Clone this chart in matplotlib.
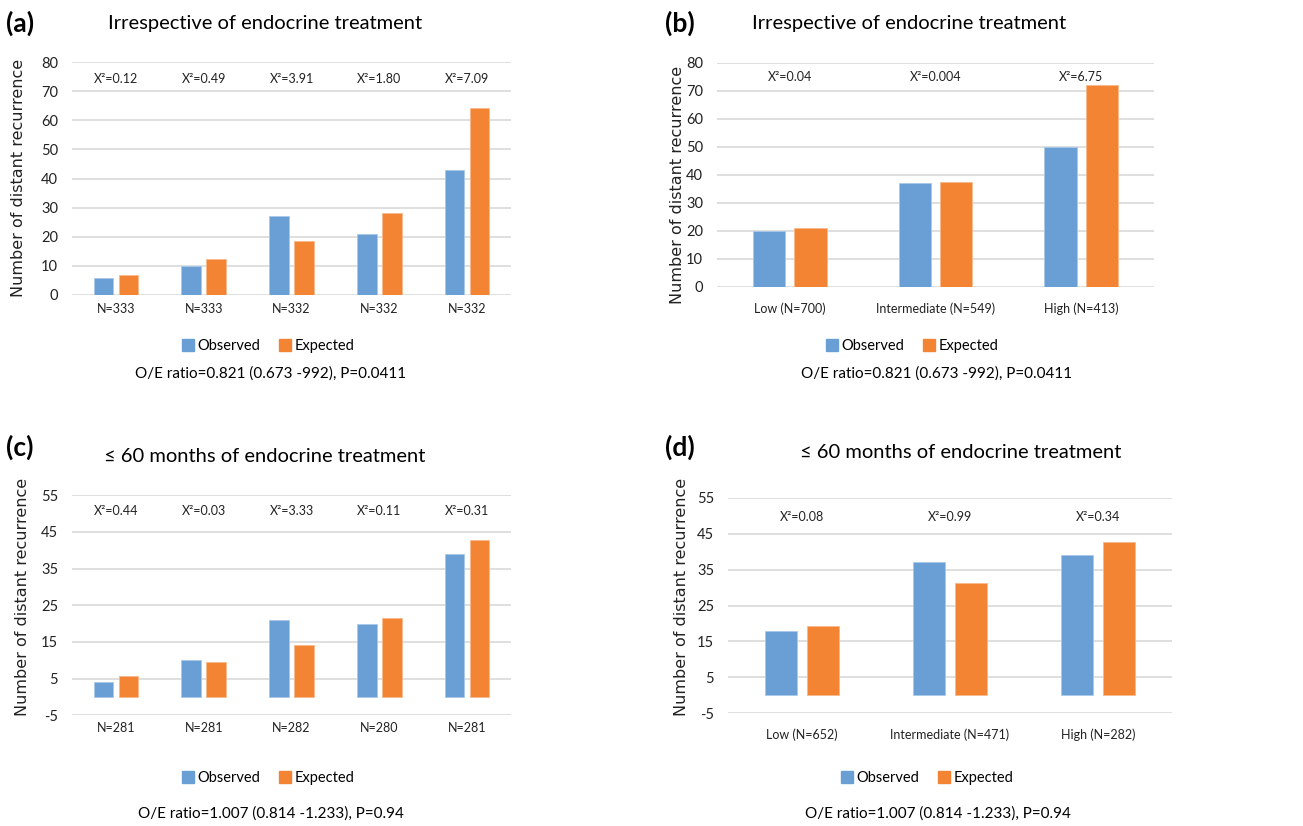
import numpy as np
import matplotlib
matplotlib.use("Agg")
import matplotlib.pyplot as plt
from matplotlib.patches import Patch

plt.rcParams['font.family'] = ['Lato', 'DejaVu Sans']

W, H = 1303, 826

# ---------------------------------------------------------------------------
# Data
# ---------------------------------------------------------------------------
obs_a = [6, 10, 27, 21, 43]
exp_a = [6.8, 12.4, 18.6, 28.2, 64.3]
chi_a = ["0.12", "0.49", "3.91", "1.80", "7.09"]
cats_a = ["N=333", "N=333", "N=332", "N=332", "N=332"]

obs_b = [20, 37, 50]
exp_b = [20.8, 37.3, 71.9]
chi_b = ["0.04", "0.004", "6.75"]
cats_b = ["Low (N=700)", "Intermediate (N=549)", "High (N=413)"]

obs_c = [4, 10, 21, 20, 39]
exp_c = [5.6, 9.4, 14.1, 21.5, 42.7]
chi_c = ["0.44", "0.03", "3.33", "0.11", "0.31"]
cats_c = ["N=281", "N=281", "N=282", "N=280", "N=281"]

obs_d = [18, 37, 39]
exp_d = [19.2, 31.4, 42.8]
chi_d = ["0.08", "0.99", "0.34"]
cats_d = ["Low (N=652)", "Intermediate (N=471)", "High (N=282)"]

title_all = "Irrespective of endocrine treatment"
title_60 = "\u2264 60 months of endocrine treatment"
oe_all = "O/E ratio=0.821 (0.673 -992), P=0.0411"
oe_60 = "O/E ratio=1.007 (0.814 -1.233), P=0.94"

BLUE = "#699FD4"
ORANGE = "#F38433"
GRID = "#D9D9D9"


def px_axes(fig, left, right, top, bottom):
    return fig.add_axes([left / W, 1 - bottom / H, (right - left) / W, (bottom - top) / H])


def fig_text(fig, x, y, s, **kw):
    fig.text(x / W, 1 - y / H, s, ha="center", va="center", **kw)


def draw_panel(fig, box, obs, exp, chi, cats, yticks, chi_y, tick_pad,
               label, title, oe, label_xy, title_xy, legend_xy, oe_xy, ylab_xy):
    ax = px_axes(fig, *box)
    x = np.arange(len(obs))
    w = 0.222
    off = 0.142
    ax.bar(x - off, obs, w, color=BLUE, edgecolor="#A9C8E8", linewidth=0.6, zorder=3)
    ax.bar(x + off, exp, w, color=ORANGE, edgecolor="#F8B98A", linewidth=0.6, zorder=3)
    ax.set_xlim(-0.5, len(obs) - 0.5)
    ax.set_ylim(yticks[0], yticks[-1])
    ax.set_yticks(yticks)
    ax.set_yticklabels([str(t) for t in yticks], fontsize=10.5, color="#222222")
    ax.set_xticks(x)
    ax.set_xticklabels(cats, fontsize=9, color="#222222")
    ax.tick_params(axis="both", length=0)
    ax.tick_params(axis="x", pad=tick_pad)
    ax.tick_params(axis="y", pad=10)
    ax.grid(axis="y", color=GRID, linewidth=1.2, zorder=0)
    for s in ax.spines.values():
        s.set_visible(False)
    for xi, c in zip(x, chi):
        ax.text(xi, chi_y, "X\u00b2=" + c, ha="center", va="center", fontsize=9, color="#222222")

    fig_text(fig, *ylab_xy, "Number of distant recurrence", rotation=90,
             fontsize=11.5, family="DejaVu Sans", color="#222222")
    fig_text(fig, *label_xy, label, fontsize=19, fontweight="bold")
    fig_text(fig, *title_xy, title, fontsize=14.5)
    fig_text(fig, *oe_xy, oe, fontsize=11)
    handles = [Patch(color=BLUE), Patch(color=ORANGE)]
    fig.legend(handles, ["Observed", "Expected"], loc="center",
               bbox_to_anchor=(legend_xy[0] / W, 1 - legend_xy[1] / H),
               ncol=2, frameon=False, fontsize=10.5, handlelength=0.8,
               handleheight=0.8, handletextpad=0.25, columnspacing=1.3)
    return ax


fig = plt.figure(figsize=(W / 100, H / 100), dpi=100)

draw_panel(fig, (72, 511, 62, 295), obs_a, exp_a, chi_a, cats_a,
           [0, 10, 20, 30, 40, 50, 60, 70, 80], 74, 6,
           "(a)", title_all, oe_all,
           (20, 23), (265, 24), (268, 346), (271, 374), (19, 178))

draw_panel(fig, (717, 1154, 62.7, 286.7), obs_b, exp_b, chi_b, cats_b,
           [0, 10, 20, 30, 40, 50, 60, 70, 80], 74.8, 11,
           "(b)", title_all, oe_all,
           (680, 23), (909, 24), (912, 346), (937, 374), (677, 185))

draw_panel(fig, (72, 511, 495.3, 715.3), obs_c, exp_c, chi_c, cats_c,
           [-5, 5, 15, 25, 35, 45, 55], 50.8, 5,
           "(c)", title_60, oe_60,
           (20, 447), (265, 456), (268, 778), (271, 814), (23, 597))

draw_panel(fig, (728, 1172, 497.7, 713.3), obs_d, exp_d, chi_d, cats_d,
           [-5, 5, 15, 25, 35, 45, 55], 49.5, 11,
           "(d)", title_60, oe_60,
           (680, 447), (961, 453), (927, 778), (938, 814), (681, 597))

fig.savefig("out.png", dpi=100)
